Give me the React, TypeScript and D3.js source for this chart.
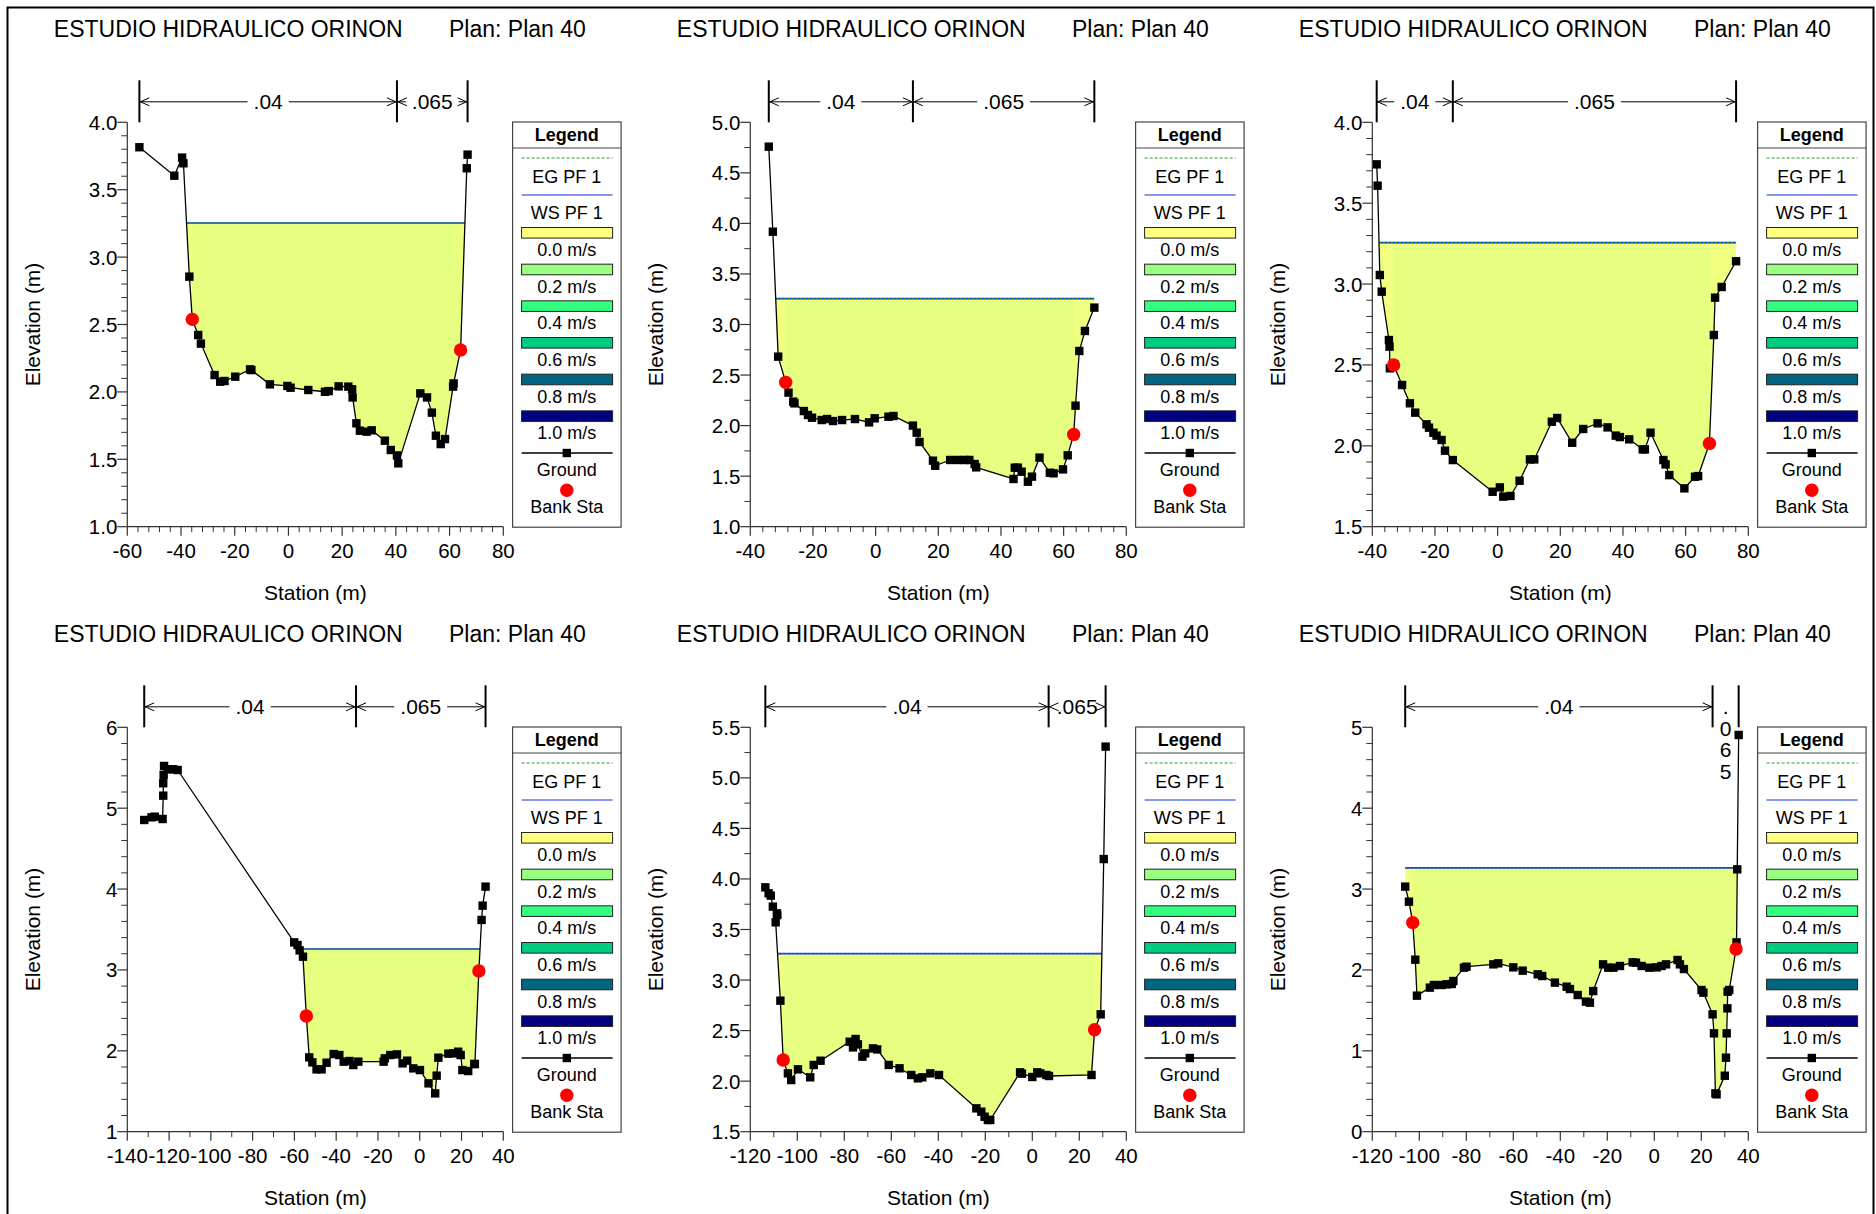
import React from 'react';
import * as d3 from 'd3';

// ---------- text ----------
const TITLE = 'ESTUDIO HIDRAULICO ORINON';
const PLAN = 'Plan: Plan 40';
const X_LABEL = 'Station (m)';
const Y_LABEL = 'Elevation (m)';
const N_VALUES = ['.04', '.065'];

// ---------- legend ----------
const LEGEND_VEL_LABELS = ['0.0 m/s', '0.2 m/s', '0.4 m/s', '0.6 m/s', '0.8 m/s', '1.0 m/s'];
const LEGEND_VEL_COLORS = ['#ffff80', '#99ff80', '#33ff80', '#00cc80', '#006680', '#000080'];

// ---------- panel 1 ----------
const STATION_1 = [-55.5,-42.5,-39.6,-39.1,-36.9,-35.8,-33.6,-32.6,-27.5,-25.4,-23.8,-19.8,-14.3,-13.8,-6.9,-0.4,0.8,7.4,13.6,15.0,18.7,22.3,23.7,23.9,25.3,26.6,29.1,31.0,35.9,38.1,40.4,40.9,49.1,51.6,53.4,54.9,56.7,58.3,61.3,61.5,64.1,66.4,66.7];
const ELEV_1 = [3.815,3.604,3.738,3.696,2.855,2.538,2.422,2.358,2.125,2.076,2.081,2.113,2.167,2.162,2.056,2.044,2.031,2.014,2.001,2.006,2.041,2.039,2.019,1.959,1.767,1.712,1.705,1.715,1.638,1.569,1.529,1.470,1.989,1.959,1.846,1.675,1.613,1.650,2.039,2.063,2.311,3.659,3.760];
const BANK_STA_1 = [-35.8, 64.1];
const BANK_ELEV_1 = [2.538, 2.311];
const WS_1 = 3.253;
const N_STA_1 = [-55.5, 40.4, 66.7];
const X_DOMAIN_1 = [-60, 80];
const Y_DOMAIN_1 = [1, 4];

// ---------- panel 2 ----------
const STATION_2 = [-34.1,-32.8,-31.1,-28.7,-27.8,-26.3,-25.9,-22.9,-21.6,-20.3,-17.2,-15.5,-13.6,-10.7,-6.6,-2.1,-0.3,4.1,5.7,11.9,13.1,14.0,18.3,19.0,23.8,26.3,28.4,29.9,31.6,32.1,44.0,44.4,45.4,46.6,48.6,49.9,52.3,55.6,56.8,59.8,61.3,63.2,63.8,65.0,66.8,69.8];
const ELEV_2 = [4.759,3.918,2.682,2.428,2.326,2.237,2.220,2.144,2.105,2.078,2.055,2.065,2.045,2.055,2.065,2.032,2.072,2.088,2.095,2.0,1.930,1.838,1.653,1.603,1.660,1.660,1.660,1.660,1.620,1.587,1.472,1.584,1.584,1.544,1.445,1.495,1.683,1.534,1.528,1.567,1.706,1.913,2.197,2.738,2.936,3.167];
const BANK_STA_2 = [-28.7, 63.2];
const BANK_ELEV_2 = [2.428, 1.913];
const WS_2 = 3.256;
const N_STA_2 = [-34.1, 11.9, 69.8];
const X_DOMAIN_2 = [-40, 80];
const Y_DOMAIN_2 = [1, 5];

// ---------- panel 3 ----------
const STATION_3 = [-38.6,-38.3,-37.6,-37.0,-34.7,-34.5,-34.4,-33.2,-30.5,-28.0,-26.3,-22.7,-21.9,-20.5,-19.5,-17.9,-16.8,-14.3,-1.6,0.7,1.8,4.1,7.0,10.3,11.7,17.3,19.0,23.8,27.3,31.9,35.1,37.7,39.0,42.0,46.3,47.0,48.8,52.9,53.6,54.8,59.6,63.0,64.0,67.6,69.0,69.4,71.5,76.1];
const ELEV_3 = [3.740,3.608,3.056,2.953,2.654,2.613,2.479,2.500,2.376,2.263,2.205,2.133,2.112,2.081,2.063,2.036,1.970,1.912,1.716,1.743,1.686,1.690,1.784,1.916,1.916,2.149,2.172,2.019,2.104,2.139,2.114,2.063,2.054,2.040,1.978,1.978,2.081,1.912,1.885,1.819,1.737,1.809,1.813,2.015,2.685,2.916,2.982,3.141];
const BANK_STA_3 = [-33.2, 67.6];
const BANK_ELEV_3 = [2.5, 2.015];
const WS_3 = 3.256;
const N_STA_3 = [-38.6, -14.3, 76.1];
const X_DOMAIN_3 = [-40, 80];
const Y_DOMAIN_3 = [1.5, 4];

// ---------- panel 4 ----------
const STATION_4 = [-131.9,-128.4,-126.8,-123.1,-122.8,-122.8,-122.6,-122.4,-120.4,-118.0,-115.9,-60.1,-58.5,-57.5,-55.9,-54.3,-52.9,-51.4,-49.4,-47.0,-44.6,-41.2,-38.5,-36.4,-33.6,-31.8,-29.4,-17.3,-16.7,-14.1,-10.9,-8.2,-6.0,-3.1,0.1,4.2,7.4,8.1,8.9,13.7,16.1,18.4,19.6,20.4,23.2,26.1,26.4,28.3,29.6,30.1,31.5];
const ELEV_4 = [4.854,4.887,4.895,4.866,5.155,5.308,5.411,5.522,5.481,5.481,5.472,3.341,3.308,3.242,3.164,2.430,1.919,1.857,1.771,1.771,1.853,1.960,1.948,1.866,1.874,1.824,1.866,1.866,1.907,1.948,1.956,1.845,1.878,1.783,1.762,1.598,1.474,1.693,1.915,1.965,1.969,1.989,1.948,1.762,1.750,1.837,1.837,2.987,3.618,3.795,4.030];
const BANK_STA_4 = [-54.3, 28.3];
const BANK_ELEV_4 = [2.430, 2.987];
const WS_4 = 3.259;
const N_STA_4 = [-131.9, -30.5, 31.5];
const X_DOMAIN_4 = [-140, 40];
const Y_DOMAIN_4 = [1, 6];

// ---------- panel 5 ----------
const STATION_5 = [-113.6,-112.2,-111.3,-110.4,-108.7,-108.5,-109.2,-107.2,-106.0,-104.0,-102.6,-99.7,-94.5,-93.0,-90.1,-77.7,-76.3,-75.2,-74.2,-72.3,-71.1,-67.8,-66.0,-61.1,-56.5,-51.5,-48.7,-46.8,-43.4,-39.7,-23.8,-21.7,-20.3,-18.9,-17.9,-5.2,-4.4,0.0,2.1,3.4,6.0,7.1,25.2,26.5,29.1,30.4,31.2];
const ELEV_5 = [3.917,3.858,3.835,3.726,3.660,3.643,3.571,2.796,2.209,2.077,2.011,2.117,2.038,2.160,2.202,2.390,2.334,2.417,2.364,2.242,2.275,2.324,2.314,2.160,2.127,2.061,2.028,2.038,2.077,2.061,1.731,1.698,1.648,1.616,1.616,2.087,2.074,2.041,2.087,2.077,2.061,2.051,2.061,2.509,2.661,4.197,5.309];
const BANK_STA_5 = [-106.0, 26.5];
const BANK_ELEV_5 = [2.209, 2.509];
const WS_5 = 3.261;
const N_STA_5 = [-113.6, 6.95, 31.2];
const X_DOMAIN_5 = [-120, 40];
const Y_DOMAIN_5 = [1.5, 5.5];

// ---------- panel 6 ----------
const STATION_6 = [-106.0,-104.4,-102.8,-101.7,-101.0,-95.5,-93.8,-90.5,-88.4,-86.2,-85.5,-81.0,-79.9,-68.5,-66.4,-60.0,-56.0,-49.6,-47.7,-42.3,-37.3,-35.9,-32.6,-29.1,-27.4,-26.0,-21.8,-19.6,-17.4,-14.6,-9.2,-7.8,-5.4,-2.1,1.0,3.1,5.0,9.9,10.9,12.6,20.1,20.9,24.8,25.4,26.0,26.5,30.0,30.5,30.8,31.1,31.2,31.9,34.8,35.0,35.3,35.9];
const ELEV_6 = [3.030,2.844,2.585,2.127,1.682,1.781,1.814,1.814,1.822,1.826,1.863,2.028,2.040,2.069,2.082,2.032,1.991,1.946,1.925,1.843,1.793,1.764,1.690,1.608,1.595,1.739,2.069,2.028,2.028,2.049,2.094,2.090,2.049,2.028,2.032,2.049,2.069,2.123,2.069,2.011,1.752,1.719,1.451,1.216,0.474,0.462,0.692,0.915,1.216,1.525,1.731,1.752,2.259,2.341,3.244,4.905];
const BANK_STA_6 = [-102.8, 34.8];
const BANK_ELEV_6 = [2.585, 2.259];
const WS_6 = 3.262;
const N_STA_6 = [-106.0, 24.8, 35.9];
const X_DOMAIN_6 = [-120, 40];
const Y_DOMAIN_6 = [0, 5];

// ---------- layout / style ----------
const FONT = '"Liberation Sans", Arial, Helvetica, sans-serif';
const PW = 376;
const PH = 404.4;
const COL_X = [127.3, 750.3, 1372.3];
const ROW_Y = [122.3, 727.3];
const CHANNEL_FILL = '#e6ff80';
const OVERBANK_FILL = '#f0ff80';
const TICK_FS = 20.5;
const LEG_FS = 18;
const MARK = 8.4;

const PANELS = [
  { st: STATION_1, el: ELEV_1, bs: BANK_STA_1, be: BANK_ELEV_1, ws: WS_1, ns: N_STA_1, xd: X_DOMAIN_1, yd: Y_DOMAIN_1, xStep: 20, xSub: 5, yStep: 0.5, ySub: 5, yFmt: '.1f' },
  { st: STATION_2, el: ELEV_2, bs: BANK_STA_2, be: BANK_ELEV_2, ws: WS_2, ns: N_STA_2, xd: X_DOMAIN_2, yd: Y_DOMAIN_2, xStep: 20, xSub: 5, yStep: 0.5, ySub: 2, yFmt: '.1f' },
  { st: STATION_3, el: ELEV_3, bs: BANK_STA_3, be: BANK_ELEV_3, ws: WS_3, ns: N_STA_3, xd: X_DOMAIN_3, yd: Y_DOMAIN_3, xStep: 20, xSub: 5, yStep: 0.5, ySub: 5, yFmt: '.1f' },
  { st: STATION_4, el: ELEV_4, bs: BANK_STA_4, be: BANK_ELEV_4, ws: WS_4, ns: N_STA_4, xd: X_DOMAIN_4, yd: Y_DOMAIN_4, xStep: 20, xSub: 2, yStep: 1, ySub: 5, yFmt: 'd' },
  { st: STATION_5, el: ELEV_5, bs: BANK_STA_5, be: BANK_ELEV_5, ws: WS_5, ns: N_STA_5, xd: X_DOMAIN_5, yd: Y_DOMAIN_5, xStep: 20, xSub: 2, yStep: 0.5, ySub: 2, yFmt: '.1f' },
  { st: STATION_6, el: ELEV_6, bs: BANK_STA_6, be: BANK_ELEV_6, ws: WS_6, ns: N_STA_6, xd: X_DOMAIN_6, yd: Y_DOMAIN_6, xStep: 20, xSub: 2, yStep: 1, ySub: 5, yFmt: 'd' },
];

const hyphen = (s: string) => s.replace(/\u2212/g, '-');

function wetGeometry(pts: number[][], w: number) {
  const n = pts.length;
  const poly: number[][] = [[pts[0][0], w]];
  const wetXs: number[] = [];
  for (let i = 0; i < n; i++) {
    const [x0, y0] = pts[i];
    poly.push([x0, Math.min(y0, w)]);
    if (y0 < w) wetXs.push(x0);
    if (i < n - 1) {
      const [x1, y1] = pts[i + 1];
      if ((y0 - w) * (y1 - w) < 0) {
        const t = (w - y0) / (y1 - y0);
        const xi = x0 + t * (x1 - x0);
        poly.push([xi, w]);
        wetXs.push(xi);
      }
    }
  }
  poly.push([pts[n - 1][0], w]);
  return { poly, x0: d3.min(wetXs) as number, x1: d3.max(wetXs) as number };
}

function textWidth(s: string, fs: number) {
  let w = 0;
  for (const c of s) w += c === '.' ? 0.278 : 0.556;
  return w * fs;
}

function Panel({ cfg, idx }: { cfg: any; idx: number }) {
  const left = COL_X[idx % 3];
  const top = ROW_Y[Math.floor(idx / 3)];
  const x = d3.scaleLinear().domain(cfg.xd).range([left, left + PW]);
  const y = d3.scaleLinear().domain(cfg.yd).range([top + PH, top]);
  const pts = cfg.st.map((s: number, i: number) => [s, cfg.el[i]]);
  const { poly, x0, x1 } = wetGeometry(pts, cfg.ws);
  const line = d3.line<number[]>().x(d => x(d[0])).y(d => y(d[1]));
  const polyPath = line(poly) + 'Z';
  const groundPath = line(pts) as string;

  const eps = 1e-6;
  const xMajor = d3.range(cfg.xd[0], cfg.xd[1] + eps, cfg.xStep);
  const xMinor = d3.range(cfg.xd[0], cfg.xd[1] + eps, cfg.xStep / cfg.xSub)
    .filter(v => Math.abs((v - cfg.xd[0]) / cfg.xStep - Math.round((v - cfg.xd[0]) / cfg.xStep)) > 1e-6);
  const yMajor = d3.range(cfg.yd[0], cfg.yd[1] + eps, cfg.yStep);
  const yMinor = d3.range(cfg.yd[0], cfg.yd[1] + eps, cfg.yStep / cfg.ySub)
    .filter(v => Math.abs((v - cfg.yd[0]) / cfg.yStep - Math.round((v - cfg.yd[0]) / cfg.yStep)) > 1e-6);
  const yFmt = d3.format(cfg.yFmt);
  const xFmt = d3.format('d');

  const clipId = `chan${idx}`;
  const barTop = top - 42;
  const arrowY = top - 20.5;
  const nFs = 21;

  const legL = left + 385.3;
  const legT = top - 0.3;
  const legW = 108.5;
  const legCx = legL + 54.2;

  return (
    <g>
      {/* titles */}
      <text x={left - 73.5} y={top - 85.3} fontSize={23} fontFamily={FONT}>{TITLE}</text>
      <text x={left + 321.7} y={top - 85.3} fontSize={23} fontFamily={FONT}>{PLAN}</text>

      <defs>
        <clipPath id={clipId}>
          <rect x={x(cfg.bs[0])} y={top - 5} width={x(cfg.bs[1]) - x(cfg.bs[0])} height={PH + 10} />
        </clipPath>
      </defs>

      {/* water */}
      <path d={polyPath} fill={OVERBANK_FILL} stroke="none" />
      <path d={polyPath} fill={CHANNEL_FILL} stroke="none" clipPath={`url(#${clipId})`} />
      <line x1={x(x0)} x2={x(x1)} y1={y(cfg.ws)} y2={y(cfg.ws)} stroke="#1030e0" strokeWidth={1.6} />
      <line x1={x(x0)} x2={x(x1)} y1={y(cfg.ws)} y2={y(cfg.ws)} stroke="#20a020" strokeWidth={1} strokeDasharray="2,2" />

      {/* ground */}
      <path d={groundPath} fill="none" stroke="#000" strokeWidth={1.3} />
      {pts.map((p: number[], i: number) => (
        <rect key={i} x={x(p[0]) - MARK / 2} y={y(p[1]) - MARK / 2} width={MARK} height={MARK} fill="#000" />
      ))}
      {cfg.bs.map((b: number, i: number) => (
        <circle key={i} cx={x(b)} cy={y(cfg.be[i])} r={6.7} fill="#ff0000" />
      ))}

      {/* axes */}
      <line x1={left} x2={left} y1={top} y2={top + PH} stroke="#333" strokeWidth={1.2} />
      <line x1={left} x2={left + PW} y1={top + PH} y2={top + PH} stroke="#333" strokeWidth={1.2} />
      {xMajor.map((v, i) => (
        <g key={'xM' + i}>
          <line x1={x(v)} x2={x(v)} y1={top + PH} y2={top + PH + 9} stroke="#333" strokeWidth={1.2} />
          <text x={x(v)} y={top + PH + 31} fontSize={TICK_FS} fontFamily={FONT} textAnchor="middle">{hyphen(xFmt(v))}</text>
        </g>
      ))}
      {xMinor.map((v, i) => (
        <line key={'xm' + i} x1={x(v)} x2={x(v)} y1={top + PH} y2={top + PH + 5.5} stroke="#333" strokeWidth={1} />
      ))}
      {yMajor.map((v, i) => (
        <g key={'yM' + i}>
          <line x1={left - 10} x2={left} y1={y(v)} y2={y(v)} stroke="#333" strokeWidth={1.2} />
          <text x={left - 10} y={y(v) + 7.5} fontSize={TICK_FS} fontFamily={FONT} textAnchor="end">{hyphen(yFmt(v))}</text>
        </g>
      ))}
      {yMinor.map((v, i) => (
        <line key={'ym' + i} x1={left - 6} x2={left} y1={y(v)} y2={y(v)} stroke="#333" strokeWidth={1} />
      ))}
      <text x={left + PW / 2} y={top + PH + 73} fontSize={21} fontFamily={FONT} textAnchor="middle">{X_LABEL}</text>
      <text transform={`translate(${left - 87},${top + PH / 2}) rotate(-90)`} fontSize={21} fontFamily={FONT} textAnchor="middle">{Y_LABEL}</text>

      {/* Manning n */}
      {cfg.ns.map((s: number, i: number) => (
        <line key={'nb' + i} x1={x(s)} x2={x(s)} y1={barTop} y2={top} stroke="#000" strokeWidth={2} />
      ))}
      {N_VALUES.map((lab, i) => {
        const xa = x(cfg.ns[i]);
        const xb = x(cfg.ns[i + 1]);
        const xc = (xa + xb) / 2;
        const tw = textWidth(lab, nFs);
        if (xb - xa < tw + 8) {
          return (
            <g key={'nl' + i}>
              {lab.split('').map((c, k) => (
                <text key={k} x={xc} y={top - 13.3 + k * 21.7} fontSize={nFs} fontFamily={FONT} textAnchor="middle">{c}</text>
              ))}
            </g>
          );
        }
        const la = xc - tw / 2 - 6;
        const lb = xc + tw / 2 + 6;
        return (
          <g key={'nl' + i}>
            {la > xa && <line x1={xa} x2={la} y1={arrowY} y2={arrowY} stroke="#000" strokeWidth={1} />}
            {xb > lb && <line x1={lb} x2={xb} y1={arrowY} y2={arrowY} stroke="#000" strokeWidth={1} />}
            <path d={`M${xa + 10},${arrowY - 4}L${xa + 1},${arrowY}L${xa + 10},${arrowY + 4}`} fill="none" stroke="#000" strokeWidth={1} />
            <path d={`M${xb - 10},${arrowY - 4}L${xb - 1},${arrowY}L${xb - 10},${arrowY + 4}`} fill="none" stroke="#000" strokeWidth={1} />
            <text x={xc} y={arrowY + 7.5} fontSize={nFs} fontFamily={FONT} textAnchor="middle">{lab}</text>
          </g>
        );
      })}

      {/* legend */}
      <rect x={legL} y={legT} width={legW} height={PH + 0.8} fill="#fff" stroke="#444" strokeWidth={1.2} />
      <line x1={legL} x2={legL + legW} y1={legT + 26} y2={legT + 26} stroke="#444" strokeWidth={1.2} />
      <text x={legCx} y={legT + 18.5} fontSize={LEG_FS} fontWeight="bold" fontFamily={FONT} textAnchor="middle">Legend</text>
      <line x1={legL + 9} x2={legL + 100} y1={legT + 36} y2={legT + 36} stroke="#20a020" strokeWidth={1} strokeDasharray="3,2" />
      <text x={legCx} y={legT + 60.5} fontSize={LEG_FS} fontFamily={FONT} textAnchor="middle">EG PF 1</text>
      <line x1={legL + 9} x2={legL + 100} y1={legT + 73} y2={legT + 73} stroke="#1030e0" strokeWidth={1.2} />
      <text x={legCx} y={legT + 96.5} fontSize={LEG_FS} fontFamily={FONT} textAnchor="middle">WS PF 1</text>
      {LEGEND_VEL_LABELS.map((lab, i) => (
        <g key={'lv' + i}>
          <rect x={legL + 9} y={legT + 105.5 + i * 36.67} width={91} height={10.6} fill={LEGEND_VEL_COLORS[i]} stroke="#222" strokeWidth={1} />
          <text x={legCx} y={legT + 134 + i * 36.67} fontSize={LEG_FS} fontFamily={FONT} textAnchor="middle">{lab}</text>
        </g>
      ))}
      <line x1={legL + 9} x2={legL + 100} y1={legT + 331} y2={legT + 331} stroke="#000" strokeWidth={1.3} />
      <rect x={legCx - MARK / 2} y={legT + 331 - MARK / 2} width={MARK} height={MARK} fill="#000" />
      <text x={legCx} y={legT + 354} fontSize={LEG_FS} fontFamily={FONT} textAnchor="middle">Ground</text>
      <circle cx={legCx} cy={legT + 368.3} r={6.7} fill="#ff0000" />
      <text x={legCx} y={legT + 390.5} fontSize={LEG_FS} fontFamily={FONT} textAnchor="middle">Bank Sta</text>
    </g>
  );
}

export default function App() {
  return (
    <svg width={1876} height={1214} style={{ position: 'absolute', left: 0, top: 0, display: 'block', background: '#fff' }}>
      <rect x={0} y={0} width={1876} height={1214} fill="#fff" />
      <rect x={7.5} y={7.5} width={1866} height={1220} fill="none" stroke="#000" strokeWidth={2} />
      {PANELS.map((cfg, i) => <Panel key={i} cfg={cfg} idx={i} />)}
    </svg>
  );
}
